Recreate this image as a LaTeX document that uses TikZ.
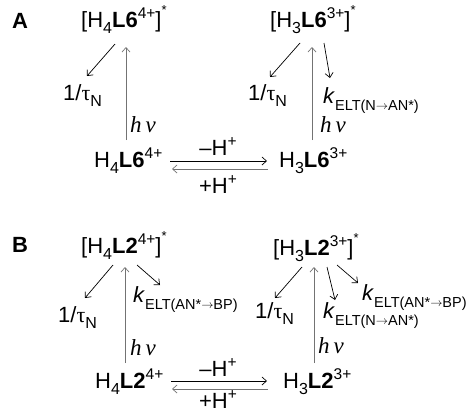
\documentclass[tikz,border=0pt]{standalone}
\usepackage{fontspec}
\setmainfont{Liberation Sans}
\newfontfamily\serfam{Liberation Serif}
\usetikzlibrary{arrows.meta}
\newcommand{\lo}[1]{\raisebox{-0.3em}{\fontsize{16}{16}\selectfont #1}}
\newcommand{\lok}[1]{\raisebox{-0.32em}{\fontsize{14.5}{14.5}\selectfont #1}}
\newcommand{\hi}[1]{\raisebox{0.40em}{\fontsize{15.5}{15.5}\selectfont #1}}
\newcommand{\st}{\raisebox{0.55em}{\fontsize{13}{13}\selectfont *}}
\newcommand{\tauN}{1/{\serfam τ}\lo{N}}
\newcommand{\hnu}{{\fontsize{23}{23}\selectfont\serfam\itshape h\,ν}}
\newcommand{\rarr}{\raisebox{0.05em}{\scalebox{0.85}[0.8]{$\rightarrow$}}}
\begin{document}
\begin{tikzpicture}[x=1pt,y=-1pt,
  txt/.style={anchor=base west,inner sep=0pt,font=\fontsize{22}{22}\selectfont},
  ctxt/.style={anchor=base,inner sep=0pt,font=\fontsize{22}{22}\selectfont},
  lbl/.style={anchor=center,inner sep=0pt,font=\fontsize{22}{22}\selectfont\bfseries},
  arr/.style={line width=0.7pt,-{Straight Barb[length=4.5pt,width=8pt]}},
  garr/.style={arr,draw=black!55}]
\useasboundingbox (0,0) rectangle (471,413);
% ---------- Panel A ----------
\node[lbl] (labA) at (20,21) {A};
\node[txt] (exA4) at (81,27) {[H\lo{4}\textbf{L6}\hi{4+}]\st};
\node[txt] (tauA4) at (63,100) {\tauN};
\node[txt] (hnA4) at (130,132) {\hnu};
\node[txt] (gsA4) at (94,167) {H\lo{4}\textbf{L6}\hi{4+}};
\node[txt] (exA3) at (270,27) {[H\lo{3}\textbf{L6}\hi{3+}]\st};
\node[txt] (tauA3) at (248,100) {\tauN};
\node[txt] (hnA3) at (320,132) {\hnu};
\node[txt] (kA3) at (323,103) {\textit{k}\lok{ELT(N\rarr AN*)}};
\node[txt] (gsA3) at (279,167) {H\lo{3}\textbf{L6}\hi{3+}};
\node[ctxt] (mA) at (218,155) {–H\hi{+}};
\node[ctxt] (pA) at (218,193) {+H\hi{+}};
\coordinate (a1) at (115,44); \coordinate (a1e) at (87,76);
\coordinate (h1) at (126,140); \coordinate (h1e) at (126,47);
\coordinate (a2) at (300,43); \coordinate (a2e) at (270,77);
\coordinate (h2) at (312,140); \coordinate (h2e) at (312,47);
\coordinate (a3) at (324,43); \coordinate (a3e) at (330,78);
\coordinate (eqA1) at (170,161); \coordinate (eqA1e) at (267,161);
\coordinate (eqA2) at (268,169); \coordinate (eqA2e) at (172,169);
\draw[arr] (a1) -- (a1e);
\draw[garr] (h1) -- (h1e);
\draw[arr] (a2) -- (a2e);
\draw[garr] (h2) -- (h2e);
\draw[arr] (a3) -- (a3e);
\draw[arr] (eqA1) -- (eqA1e);
\draw[garr] (eqA2) -- (eqA2e);
% ---------- Panel B ----------
\node[lbl] (labB) at (20,245) {B};
\node[txt] (exB4) at (81,253) {[H\lo{4}\textbf{L2}\hi{4+}]\st};
\node[txt] (tauB4) at (58,322) {\tauN};
\node[txt] (hnB4) at (130,355) {\hnu};
\node[txt] (kB4) at (133,302) {\textit{k}\lok{ELT(AN*\rarr BP)}};
\node[txt] (gsB4) at (95,388) {H\lo{4}\textbf{L2}\hi{4+}};
\node[txt] (exB3) at (273,255) {[H\lo{3}\textbf{L2}\hi{3+}]\st};
\node[txt] (tauB3) at (255,318) {\tauN};
\node[txt] (hnB3) at (318,353) {\hnu};
\node[txt] (kB3a) at (323,318) {\textit{k}\lok{ELT(N\rarr AN*)}};
\node[txt] (kB3b) at (362,300) {\textit{k}\lok{ELT(AN*\rarr BP)}};
\node[txt] (gsB3) at (283,388) {H\lo{3}\textbf{L2}\hi{3+}};
\node[ctxt] (mB) at (218,376) {–H\hi{+}};
\node[ctxt] (pB) at (218,408) {+H\hi{+}};
\coordinate (b1) at (113,265); \coordinate (b1e) at (85,298);
\coordinate (hb1) at (125,363); \coordinate (hb1e) at (125,267);
\coordinate (b2) at (137,265); \coordinate (b2e) at (160,285);
\coordinate (b3) at (302,267); \coordinate (b3e) at (275,298);
\coordinate (hb2) at (314,363); \coordinate (hb2e) at (314,267);
\coordinate (b4) at (327,267); \coordinate (b4e) at (335,300);
\coordinate (b5) at (337,265); \coordinate (b5e) at (358,283);
\coordinate (eqB1) at (171,381); \coordinate (eqB1e) at (267,381);
\coordinate (eqB2) at (268,389); \coordinate (eqB2e) at (172,389);
\draw[arr] (b1) -- (b1e);
\draw[garr] (hb1) -- (hb1e);
\draw[arr] (b2) -- (b2e);
\draw[arr] (b3) -- (b3e);
\draw[garr] (hb2) -- (hb2e);
\draw[arr] (b4) -- (b4e);
\draw[arr] (b5) -- (b5e);
\draw[arr] (eqB1) -- (eqB1e);
\draw[garr] (eqB2) -- (eqB2e);
\end{tikzpicture}
\end{document}
